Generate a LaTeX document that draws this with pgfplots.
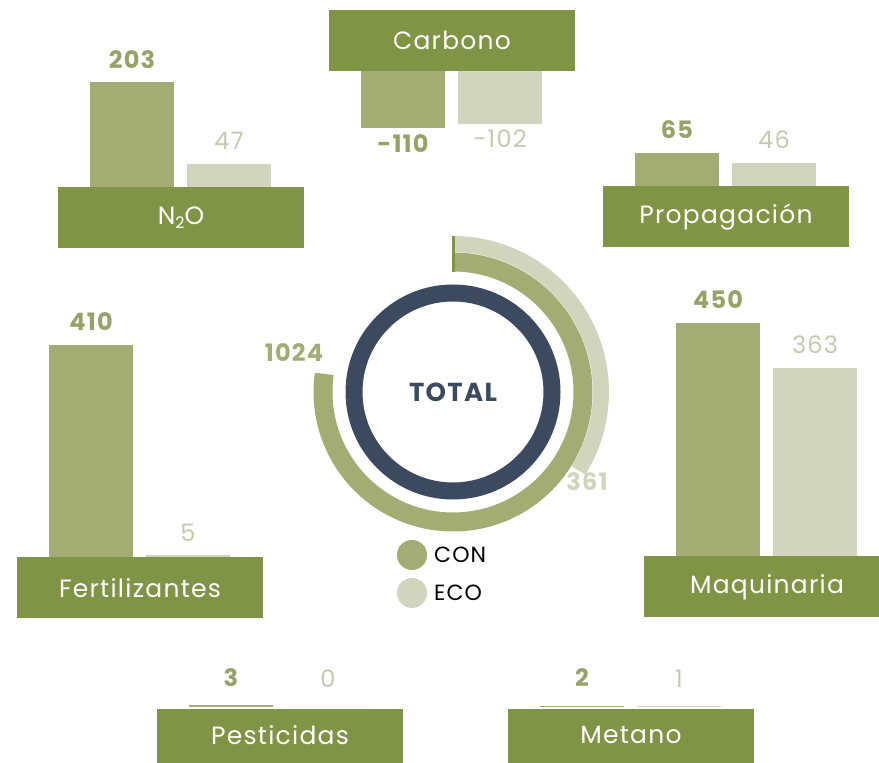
\documentclass[border=0pt]{standalone}
\usepackage{fontspec}
\setmainfont{Poppins}[LetterSpace=5]
\usepackage{pgfplots}
\pgfplotsset{compat=1.18}
\definecolor{boxg}{HTML}{7F9444}
\definecolor{con}{HTML}{A3AC72}
\definecolor{eco}{HTML}{D2D5BE}
\definecolor{conl}{HTML}{98A268}
\definecolor{ecol}{HTML}{C6C9B2}
\definecolor{navy}{HTML}{3B4A5F}
\newcommand{\lblfont}{\fontsize{25}{28}\selectfont}
\newcommand{\numfont}{\fontsize{24}{27}\selectfont}
\pgfplotsset{
  grp/.style={hide axis, scale only axis, x=97pt, y=0.52pt,
    xmin=-0.5, xmax=1.5, ymin=0, ymax=500, ybar, bar width=84pt,
    clip=false, anchor=south west,
    nodes near coords,
    every node near coord/.append style={inner sep=0pt, anchor=south, yshift=14pt},
    /pgf/number format/fixed, /pgf/number format/precision=0,
    /pgf/number format/assume math mode=true},
  conbar/.style={fill=con, draw=none, bar shift=0pt,
    every node near coord/.append style={text=conl, font=\numfont\bfseries}},
  ecobar/.style={fill=eco, draw=none, bar shift=0pt,
    every node near coord/.append style={text=ecol, font=\numfont}},
}
\begin{document}
\begin{tikzpicture}[x=1pt, y=1pt]
\useasboundingbox (0,0) rectangle (879,763);
\clip (0,0) rectangle (879,763);

% ---------- N2O
\begin{axis}[grp, at={(83.5pt,575pt)}]
\addplot[conbar] coordinates {(0,203)};
\addplot[ecobar] coordinates {(1,47)};
\end{axis}
% ---------- Carbono
\begin{axis}[grp, ymin=-200, ymax=0, anchor=north west, at={(354.5pt,692pt)}]
\addplot[conbar, every node near coord/.append style={anchor=north, yshift=-20pt}] coordinates {(0,-110)};
\addplot[ecobar, every node near coord/.append style={anchor=north, yshift=-20pt}] coordinates {(1,-102)};
\end{axis}
% ---------- Propagacion
\begin{axis}[grp, at={(628.5pt,576pt)}]
\addplot[conbar] coordinates {(0,65)};
\addplot[ecobar] coordinates {(1,46)};
\end{axis}
% ---------- Fertilizantes
\begin{axis}[grp, at={(42.5pt,205pt)}]
\addplot[conbar] coordinates {(0,410)};
\addplot[ecobar] coordinates {(1,5)};
\end{axis}
% ---------- Maquinaria
\begin{axis}[grp, at={(669.5pt,206pt)}]
\addplot[conbar] coordinates {(0,450)};
\addplot[ecobar] coordinates {(1,363)};
\end{axis}
% ---------- Pesticidas
\begin{axis}[grp, at={(182.5pt,56pt)},
  every node near coord/.append style={yshift=5pt}]
\addplot[conbar] coordinates {(0,3)};
\addplot[ecobar] coordinates {(1,0)};
\end{axis}
% ---------- Metano
\begin{axis}[grp, at={(533.5pt,56pt)},
  every node near coord/.append style={yshift=5pt}]
\addplot[conbar] coordinates {(0,2)};
\addplot[ecobar] coordinates {(1,1)};
\end{axis}

% ---------- category boxes
\foreach \xl/\yb in {58/515, 329/692, 603/516, 17/145, 644/146, 157/-7, 508/-7}{
  \fill[boxg] (\xl,\yb) rectangle ++(246,61);
}
\node[text=white, font=\lblfont] at (181,545) {N\raisebox{-0.3ex}{\fontsize{16}{17}\selectfont 2}O};
\node[text=white, font=\lblfont] at (452,722.5) {Carbono};
\node[text=white, font=\lblfont] at (726,546) {Propagación};
\node[text=white, font=\lblfont] at (140,175) {Fertilizantes};
\node[text=white, font=\lblfont] at (767,176) {Maquinaria};
\node[text=white, font=\lblfont] at (280,28) {Pesticidas};
\node[text=white, font=\lblfont] at (631,28) {Metano};

% ---------- donut
\coordinate (c) at (453,371);
\draw[navy, line width=17pt] (c) circle (99);
\draw[con, line width=19pt] ([shift={(90:130)}]c) arc[start angle=90, end angle=-188, radius=130];
\draw[eco, line width=16pt] ([shift={(90:148)}]c) arc[start angle=90, end angle=-32, radius=148];
\draw[boxg, line width=3pt] ([shift={(90:120)}]c) -- ([shift={(90:156)}]c);
\node[text=navy, font=\fontsize{26}{29}\selectfont\bfseries] at (c) {TOTAL};
\node[text=con, font=\fontsize{24}{26}\selectfont\bfseries] at (294,410) {1024};
\node[text=eco, font=\fontsize{24}{26}\selectfont\bfseries] at (587,281) {361};

% ---------- legend
\fill[con] (412,208) circle (15);
\fill[eco] (412,170) circle (15);
\node[anchor=west, font=\fontsize{22}{24}\selectfont, inner sep=0pt] at (434,208) {CON};
\node[anchor=west, font=\fontsize{22}{24}\selectfont, inner sep=0pt] at (434,170) {ECO};
\end{tikzpicture}
\end{document}
